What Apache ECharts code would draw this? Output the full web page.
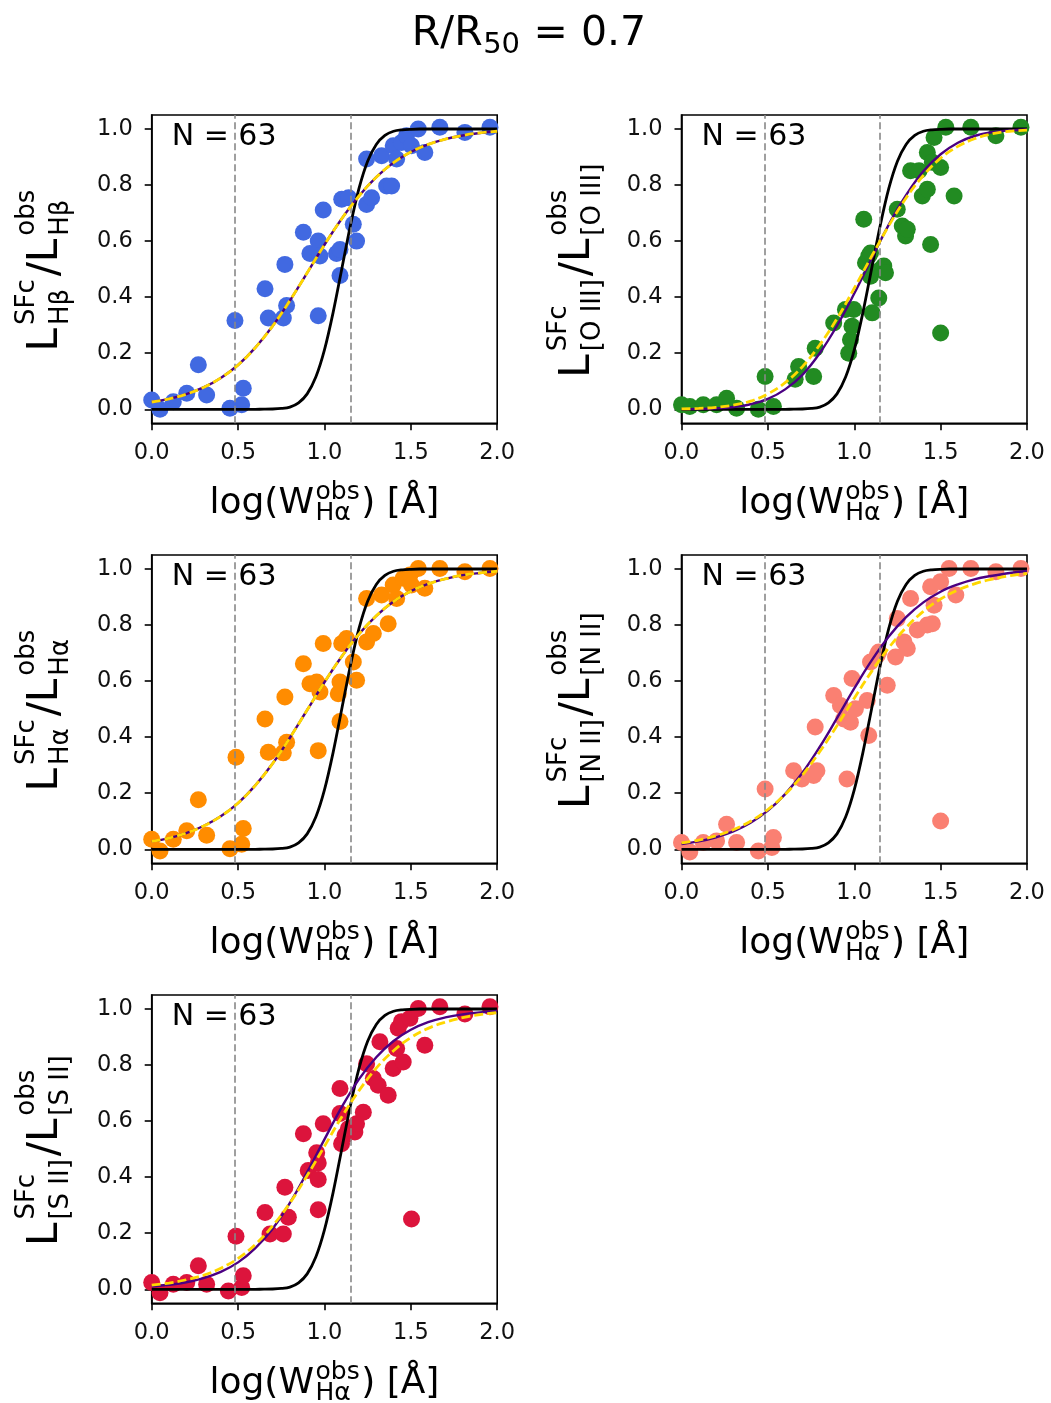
<!DOCTYPE html>
<html><head><meta charset="utf-8">
<script src="https://cdn.jsdelivr.net/npm/echarts@6/dist/echarts.min.js"></script>
<style>html,body{margin:0;padding:0;background:#fff}#c{width:1051px;height:1403px}</style>
</head><body><div id="c"></div>
<script>
// ---------------- data ----------------
const xTicks = [0, 0.5, 1.0, 1.5, 2.0];
const yTicks = [0, 0.2, 0.4, 0.6, 0.8, 1.0];
const refLines = [0.477, 1.146];
const nText = 'N = 63';

// sample x positions for the fitted curves
const fitX = [0,0.1,0.2,0.3,0.4,0.5,0.6,0.7,0.8,0.9,1.0,1.1,1.2,1.3,1.4,1.5,1.6,1.7,1.8,1.9,2.0];
// black reference curve (same in all panels)
const blackX = [0,0.1,0.2,0.3,0.4,0.5,0.6,0.65,0.7,0.75,0.8,0.85,0.9,0.95,1.0,1.05,1.1,1.15,1.2,1.25,1.3,1.35,1.4,1.45,1.5,1.55,1.6,1.7,1.8,1.9,2.0];
const blackY = [0,0,0,0,0,0,0,0.0003,0.001,0.003,0.008,0.023,0.055,0.115,0.212,0.345,0.5,0.655,0.788,0.885,0.945,0.977,0.992,0.997,0.999,1,1,1,1,1,1];

// H-beta
const hbPoints = [[0.0,0.033],[0.048,0.0],[0.125,0.027],[0.203,0.057],[0.318,0.051],[0.27,0.159],[0.453,0.004],[0.521,0.016],[0.53,0.075],[0.482,0.317],[0.656,0.43],[0.675,0.326],[0.762,0.326],[0.781,0.37],[0.771,0.517],[0.878,0.632],[0.916,0.556],[0.964,0.6],[0.974,0.547],[0.964,0.334],[0.993,0.711],[1.07,0.556],[1.09,0.477],[1.09,0.57],[1.10,0.749],[1.14,0.755],[1.167,0.66],[1.186,0.6],[1.244,0.893],[1.244,0.731],[1.273,0.755],[1.331,0.905],[1.36,0.797],[1.389,0.797],[1.398,0.94],[1.418,0.893],[1.446,0.952],[1.475,0.976],[1.504,0.94],[1.543,1.0],[1.581,0.916],[1.668,1.006],[1.813,0.988],[1.958,1.006]];
const hbPurple = [0.026,0.037,0.054,0.078,0.112,0.158,0.22,0.297,0.388,0.487,0.587,0.68,0.761,0.828,0.88,0.918,0.945,0.964,0.977,0.986,0.992];
const hbGold   = [0.026,0.037,0.054,0.078,0.112,0.158,0.22,0.297,0.388,0.487,0.587,0.68,0.761,0.828,0.88,0.918,0.945,0.964,0.977,0.986,0.992];

// [O III]
const oiiiPoints = [[0.0,0.016],[0.048,0.01],[0.126,0.016],[0.203,0.016],[0.261,0.039],[0.319,0.004],[0.445,0.0],[0.484,0.117],[0.532,0.01],[0.658,0.107],[0.678,0.153],[0.774,0.218],[0.765,0.117],[0.881,0.308],[0.949,0.356],[0.968,0.2],[0.978,0.248],[0.987,0.296],[0.997,0.356],[1.055,0.678],[1.065,0.523],[1.084,0.547],[1.094,0.558],[1.094,0.475],[1.104,0.344],[1.142,0.397],[1.152,0.499],[1.171,0.511],[1.181,0.487],[1.249,0.714],[1.278,0.654],[1.297,0.618],[1.307,0.642],[1.326,0.851],[1.375,0.851],[1.394,0.761],[1.423,0.916],[1.423,0.785],[1.442,0.588],[1.452,0.881],[1.462,0.97],[1.5,0.272],[1.5,0.863],[1.53,1.006],[1.578,0.761],[1.675,1.006],[1.82,0.976],[1.965,1.006]];
const oiiiPurple = [0.0004,0.0012,0.003,0.008,0.018,0.037,0.071,0.123,0.2,0.298,0.413,0.537,0.659,0.764,0.849,0.91,0.951,0.976,0.989,0.995,0.998];
const oiiiGold   = [0.0012,0.003,0.007,0.015,0.029,0.055,0.095,0.152,0.23,0.323,0.432,0.545,0.655,0.754,0.834,0.896,0.938,0.966,0.983,0.992,0.996];

// H-alpha
const haPoints = [[0.0,0.036],[0.048,-0.006],[0.125,0.036],[0.203,0.066],[0.318,0.05],[0.27,0.177],[0.453,0.002],[0.521,0.018],[0.53,0.074],[0.488,0.328],[0.656,0.465],[0.675,0.346],[0.762,0.344],[0.781,0.382],[0.771,0.543],[0.878,0.662],[0.916,0.591],[0.974,0.561],[0.955,0.597],[0.964,0.352],[0.993,0.734],[1.08,0.555],[1.09,0.456],[1.09,0.597],[1.10,0.734],[1.128,0.752],[1.167,0.668],[1.186,0.603],[1.244,0.895],[1.244,0.74],[1.283,0.77],[1.331,0.907],[1.369,0.805],[1.398,0.943],[1.418,0.895],[1.456,0.967],[1.495,0.979],[1.504,0.943],[1.543,1.002],[1.581,0.931],[1.668,1.002],[1.813,0.99],[1.958,1.002]];
const haPurple = [0.028,0.04,0.058,0.083,0.118,0.165,0.228,0.306,0.398,0.497,0.596,0.688,0.768,0.833,0.884,0.921,0.947,0.965,0.978,0.986,0.992];
const haGold   = [0.028,0.04,0.058,0.083,0.118,0.165,0.228,0.306,0.398,0.497,0.596,0.688,0.768,0.833,0.884,0.921,0.947,0.965,0.978,0.986,0.992];

// [N II]
const niiPoints = [[0.0,0.024],[0.048,-0.01],[0.126,0.024],[0.203,0.03],[0.261,0.089],[0.319,0.024],[0.445,-0.006],[0.484,0.215],[0.532,0.042],[0.523,0.006],[0.649,0.28],[0.697,0.251],[0.765,0.263],[0.784,0.28],[0.774,0.436],[0.881,0.549],[0.92,0.513],[0.939,0.465],[0.958,0.251],[0.978,0.453],[0.987,0.609],[1.007,0.501],[1.075,0.531],[1.084,0.406],[1.094,0.668],[1.133,0.692],[1.142,0.704],[1.191,0.585],[1.239,0.686],[1.249,0.823],[1.288,0.74],[1.307,0.716],[1.326,0.895],[1.365,0.782],[1.423,0.8],[1.442,0.937],[1.452,0.805],[1.462,0.871],[1.5,0.101],[1.5,0.955],[1.549,1.002],[1.588,0.907],[1.675,1.002],[1.82,0.99],[1.965,1.002]];
const niiPurple = [0.019,0.028,0.043,0.064,0.095,0.138,0.197,0.273,0.365,0.468,0.574,0.673,0.759,0.828,0.881,0.919,0.945,0.964,0.976,0.986,0.993];
const niiGold   = [0.023,0.033,0.048,0.07,0.1,0.142,0.196,0.265,0.348,0.441,0.539,0.634,0.719,0.791,0.849,0.893,0.925,0.948,0.964,0.976,0.984];

// [S II]
const siiPoints = [[0.0,0.024],[0.048,-0.012],[0.125,0.018],[0.203,0.024],[0.27,0.084],[0.318,0.018],[0.444,-0.006],[0.488,0.189],[0.521,0.006],[0.53,0.048],[0.656,0.274],[0.685,0.197],[0.762,0.197],[0.791,0.257],[0.771,0.364],[0.878,0.555],[0.906,0.424],[0.955,0.487],[0.964,0.451],[0.964,0.392],[0.964,0.284],[0.993,0.591],[1.09,0.716],[1.09,0.627],[1.099,0.519],[1.119,0.549],[1.138,0.573],[1.176,0.561],[1.186,0.591],[1.225,0.632],[1.244,0.805],[1.283,0.752],[1.311,0.728],[1.321,0.883],[1.369,0.692],[1.398,0.788],[1.418,0.859],[1.427,0.931],[1.446,0.955],[1.456,0.811],[1.504,0.251],[1.495,0.967],[1.543,1.002],[1.581,0.871],[1.668,1.008],[1.813,0.982],[1.958,1.008]];
const siiPurple = [0.01,0.016,0.025,0.04,0.062,0.096,0.147,0.216,0.308,0.418,0.535,0.65,0.75,0.828,0.886,0.926,0.953,0.97,0.981,0.988,0.993];
const siiGold   = [0.015,0.022,0.034,0.05,0.075,0.11,0.16,0.226,0.308,0.406,0.51,0.615,0.709,0.789,0.851,0.898,0.931,0.953,0.969,0.98,0.987];

// ---------------- layout / styles ----------------
const FONT = '"DejaVu Sans", "Noto Sans", sans-serif';
const colLeft = [151.7, 681.5];
const rowTop = [115, 555, 995];
const GW = 345.5, GH = 308.3;

const panels = [
  {pts: hbPoints,   pur: hbPurple,   gold: hbGold,   color: '#4169E1', line: 'Hβ',      col: 0, row: 0},
  {pts: oiiiPoints, pur: oiiiPurple, gold: oiiiGold, color: '#228B22', line: '[O III]', col: 1, row: 0},
  {pts: haPoints,   pur: haPurple,   gold: haGold,   color: '#FF8C00', line: 'Hα',      col: 0, row: 1},
  {pts: niiPoints,  pur: niiPurple,  gold: niiGold,  color: '#FA8072', line: '[N II]',  col: 1, row: 1},
  {pts: siiPoints,  pur: siiPurple,  gold: siiGold,  color: '#DC143C', line: '[S II]',  col: 0, row: 2}
];

const zip = (xs, ys) => xs.map((x, i) => [x, ys[i]]);

// text measuring for super/subscript labels
const mctx = document.createElement('canvas').getContext('2d');
function tw(t, s) { mctx.font = s + 'px ' + FONT; return mctx.measureText(t).width; }
function txt(t, x, baseline, size) {
  return {type: 'text', x: x, y: baseline - 0.3 * size,
    style: {text: t, font: size + 'px ' + FONT, fill: '#000', textAlign: 'left', textVerticalAlign: 'middle', verticalAlign: 'middle'}};
}
function buildLabel(parts, main, small, supUp, subDown, gap) {
  const kids = []; let x = 0;
  parts.forEach(p => {
    if (p.t !== undefined) { kids.push(txt(p.t, x, 0, main)); x += tw(p.t, main); }
    else {
      let w = 0;
      if (p.sup) { kids.push(txt(p.sup, x + gap, -supUp, small)); w = Math.max(w, tw(p.sup, small)); }
      if (p.sub) { kids.push(txt(p.sub, x + gap, subDown, small)); w = Math.max(w, tw(p.sub, small)); }
      x += w + 2 * gap;
    }
  });
  kids.forEach(k => { k.x -= x / 2; });
  return kids;
}

const grids = [], xAxes = [], yAxes = [], series = [], graphics = [];
const axisCommon = {
  axisLine: {show: true, onZero: false, lineStyle: {color: '#000', width: 1.6}},
  axisTick: {show: true, inside: false, length: 7, lineStyle: {color: '#000', width: 1.6}},
  splitLine: {show: false}
};

panels.forEach((p, i) => {
  const left = colLeft[p.col], top = rowTop[p.row];
  grids.push({left: left, top: top, width: GW, height: GH, show: true, borderColor: '#000', borderWidth: 1.6, backgroundColor: 'transparent'});
  xAxes.push(Object.assign({}, axisCommon, {
    type: 'value', gridIndex: i, min: 0, max: 2, interval: 0.5,
    axisLabel: {fontSize: 22.5, fontFamily: FONT, color: '#111', margin: 18, formatter: v => v.toFixed(1)}
  }));
  yAxes.push(Object.assign({}, axisCommon, {
    type: 'value', gridIndex: i, min: -0.05, max: 1.05,
    axisTick: {show: true, inside: false, length: 7, lineStyle: {color: '#000', width: 1.6}, customValues: yTicks},
    axisLabel: {fontSize: 22.5, fontFamily: FONT, color: '#111', margin: 19, customValues: yTicks, formatter: v => v.toFixed(1)}
  }));
  series.push({
    type: 'scatter', xAxisIndex: i, yAxisIndex: i, data: p.pts, symbolSize: 17,
    itemStyle: {color: p.color, opacity: 1}, z: 2, clip: true,
    markLine: {silent: true, symbol: ['none', 'none'], label: {show: false},
      lineStyle: {color: '#888', type: [7, 3.5], width: 1.6}, data: refLines.map(v => ({xAxis: v}))}
  });
  series.push({type: 'line', xAxisIndex: i, yAxisIndex: i, data: zip(blackX, blackY), showSymbol: false, smooth: 0.3,
    lineStyle: {color: '#000', width: 2.8}, z: 3});
  series.push({type: 'line', xAxisIndex: i, yAxisIndex: i, data: zip(fitX, p.pur), showSymbol: false, smooth: 0.4,
    lineStyle: {color: '#4B0082', width: 2.4}, z: 4});
  series.push({type: 'line', xAxisIndex: i, yAxisIndex: i, data: zip(fitX, p.gold), showSymbol: false, smooth: 0.4,
    lineStyle: {color: '#FFD700', width: 2.8, type: [9, 4]}, z: 5});

  // N = 63
  graphics.push({type: 'text', x: left + 20, y: top + 31.7 - 0.3 * 30,
    style: {text: nText, font: '30px ' + FONT, fill: '#000', textAlign: 'left', textVerticalAlign: 'middle', verticalAlign: 'middle'}});

  // x-axis label
  graphics.push({type: 'group', x: left + GW / 2, y: top + GH + 91,
    children: buildLabel([{t: 'log(W'}, {sup: 'obs', sub: 'Hα'}, {t: ') [Å]'}], 36, 25, 14, 7, 1.5)});

  // y-axis label (rotated)
  graphics.push({type: 'group', x: p.col === 0 ? 59 : 591, y: top + GH / 2, rotation: Math.PI / 2,
    children: buildLabel([{t: 'L'}, {sup: 'SFc', sub: p.line}, {t: '/L'}, {sup: 'obs', sub: p.line}], 42, 26, 24, 10, 3)});
});

// title
graphics.push({type: 'group', x: 529, y: 46.7,
  children: buildLabel([{t: 'R/R'}, {sub: '50'}, {t: ' = 0.7'}], 41, 29, 0, 7, 0.5)});

const chart = echarts.init(document.getElementById('c'), null, {renderer: 'canvas'});
chart.setOption({
  backgroundColor: '#fff', animation: false,
  grid: grids, xAxis: xAxes, yAxis: yAxes, series: series, graphic: graphics
});
</script></body></html>
